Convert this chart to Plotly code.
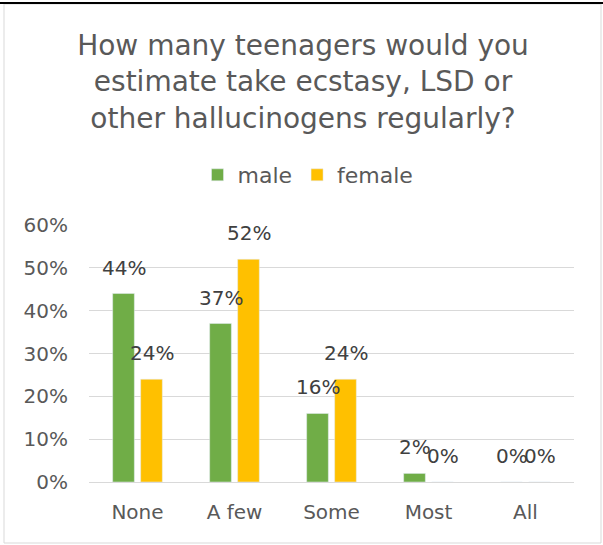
import plotly.graph_objects as go

categories = ["None", "A few", "Some", "Most", "All"]
male = [0.44, 0.37, 0.16, 0.02, 0.0]
female = [0.24, 0.52, 0.24, 0.0, 0.0]
series_names = ["male", "female"]
y_ticks = [0, 0.1, 0.2, 0.3, 0.4, 0.5, 0.6]
title_text = "How many teenagers would you<br>estimate take ecstasy, LSD or<br>other hallucinogens regularly?"

FONT = "DejaVu Sans"
GREEN = "#70AD47"
GOLD = "#FFC000"
GRID = "#D9D9D9"
TXT = "#595959"

W, H = 603, 545
L, R, T, B = 89, 29, 225, 63
pw, ph = W - L - R, H - T - B

def px_x(x):
    return (x - L) / pw

def px_y(y):
    return (H - B - y) / ph

fig = go.Figure()
fig.add_trace(go.Bar(x=categories, y=male, name=series_names[0], marker_color=GREEN))
fig.add_trace(go.Bar(x=categories, y=female, name=series_names[1], marker_color=GOLD))

annotations = []
for vals, shift in ((male, -14), (female, 14)):
    for c, v in zip(categories, vals):
        annotations.append(dict(
            x=c, y=v, xref="x", yref="y", text=f"{round(v*100)}%",
            showarrow=False, xshift=shift, yshift=26, yanchor="middle",
            font=dict(family=FONT, size=20, color="#404040")))

shapes = [
    dict(type="rect", xref="paper", yref="paper",
         x0=px_x(4), x1=px_x(601), y0=px_y(543), y1=px_y(4),
         line=dict(color=GRID, width=1), fillcolor="rgba(0,0,0,0)", layer="below"),
    dict(type="line", xref="paper", yref="paper",
         x0=px_x(0), x1=px_x(603), y0=px_y(3), y1=px_y(3),
         line=dict(color="black", width=2)),
]

fig.update_layout(
    width=W, height=H,
    margin=dict(l=L, r=R, t=T, b=B),
    paper_bgcolor="white", plot_bgcolor="white",
    font=dict(family=FONT, color=TXT, size=20),
    title=dict(text=title_text, x=303 / W, xanchor="center", xref="container",
               y=1 - 55 / H, yanchor="top", yref="container",
               font=dict(family=FONT, size=28, color=TXT)),
    legend=dict(orientation="h", x=308 / W, xanchor="center", xref="container",
                y=1 - 175 / H, yanchor="middle", yref="container",
                font=dict(family=FONT, size=22, color=TXT),
                itemclick=False),
    bargap=0.423, bargroupgap=0.225,
    annotations=annotations, shapes=shapes,
    showlegend=True,
)
fig.update_xaxes(showgrid=False, showline=False, ticks="", ticklabelstandoff=16,
                 tickfont=dict(family=FONT, size=20, color=TXT))
fig.update_yaxes(range=[0, 0.6], tickvals=y_ticks, tickformat=".0%",
                 showgrid=True, gridcolor=GRID, gridwidth=1,
                 zeroline=True, zerolinecolor=GRID, zerolinewidth=1,
                 showline=False, ticks="", ticklabelstandoff=20,
                 tickfont=dict(family=FONT, size=20, color=TXT))

fig.write_html("out.html", config={"displayModeBar": False},
               post_script="document.body.style.margin='0';")
